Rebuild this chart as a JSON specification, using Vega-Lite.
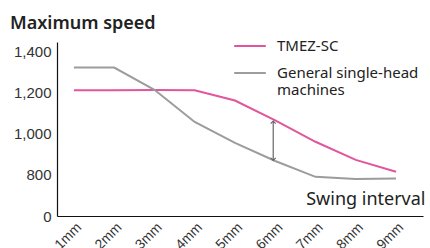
{
  "$schema": "https://vega.github.io/schema/vega-lite/v6.json",
  "width": 366,
  "height": 174,
  "autosize": {"type": "none"},
  "padding": {"left": 57, "top": 42, "right": 7, "bottom": 32},
  "background": "white",
  "config": {
    "font": "Noto Sans",
    "view": {"stroke": null}
  },
  "title": {
    "text": "Maximum speed",
    "anchor": "start",
    "frame": "group",
    "dx": -47,
    "dy": 9,
    "offset": 5,
    "fontSize": 18,
    "fontWeight": 600,
    "color": "#222222",
    "font": "Noto Sans"
  },
  "datasets": {
    "lines": [
      {"mm": 1, "speed": 1210, "series": "TMEZ-SC"},
      {"mm": 2, "speed": 1210, "series": "TMEZ-SC"},
      {"mm": 3, "speed": 1211, "series": "TMEZ-SC"},
      {"mm": 4, "speed": 1210, "series": "TMEZ-SC"},
      {"mm": 5, "speed": 1160, "series": "TMEZ-SC"},
      {"mm": 6, "speed": 1064, "series": "TMEZ-SC"},
      {"mm": 7, "speed": 960, "series": "TMEZ-SC"},
      {"mm": 8, "speed": 872, "series": "TMEZ-SC"},
      {"mm": 9, "speed": 815, "series": "TMEZ-SC"},
      {"mm": 1, "speed": 1320, "series": "General single-head machines"},
      {"mm": 2, "speed": 1320, "series": "General single-head machines"},
      {"mm": 3, "speed": 1212, "series": "General single-head machines"},
      {"mm": 4, "speed": 1056, "series": "General single-head machines"},
      {"mm": 5, "speed": 955, "series": "General single-head machines"},
      {"mm": 6, "speed": 867, "series": "General single-head machines"},
      {"mm": 7, "speed": 790, "series": "General single-head machines"},
      {"mm": 8, "speed": 780, "series": "General single-head machines"},
      {"mm": 9, "speed": 782, "series": "General single-head machines"}
    ],
    "arrow": [
      {"mm": 5.95, "top": 1060, "bottom": 870}
    ]
  },
  "layer": [
    {
      "data": {"name": "lines"},
      "mark": {"type": "line", "strokeWidth": 2},
      "encoding": {
        "x": {
          "field": "mm",
          "type": "quantitative",
          "scale": {"domain": [0.58, 9.67], "nice": false, "zero": false},
          "axis": {
            "values": [1, 2, 3, 4, 5, 6, 7, 8, 9],
            "labelExpr": "datum.value + 'mm'",
            "labelAngle": -45,
            "labelFont": "Liberation Sans",
            "labelFontSize": 14,
            "labelColor": "#333333",
            "labelPadding": 4,
            "ticks": false,
            "grid": false,
            "domainColor": "#111111",
            "domainWidth": 1.2,
            "title": "Swing interval",
            "titleFontSize": 18,
            "titleFontWeight": "normal",
            "titleColor": "#222222",
            "titleAnchor": "end",
            "titleAlign": "right",
            "titleBaseline": "alphabetic",
            "titleX": 368,
            "titleY": -12
          }
        },
        "y": {
          "field": "speed",
          "type": "quantitative",
          "scale": {"domain": [600, 1444], "nice": false, "zero": false},
          "axis": {
            "values": [600, 800, 1000, 1200, 1400],
            "labelExpr": "datum.value == 600 ? '0' : format(datum.value, ',')",
            "labelFont": "Liberation Sans",
            "labelFontSize": 15,
            "labelColor": "#333333",
            "labelPadding": 6,
            "ticks": false,
            "grid": false,
            "domainColor": "#111111",
            "domainWidth": 1.2,
            "title": null
          }
        },
        "color": {
          "field": "series",
          "type": "nominal",
          "scale": {
            "domain": ["TMEZ-SC", "General single-head machines"],
            "range": ["#e2559d", "#9c9c9c"]
          },
          "legend": {
            "orient": "none",
            "legendX": 176,
            "legendY": -13,
            "title": null,
            "symbolType": "stroke",
            "symbolSize": 1000,
            "symbolStrokeWidth": 2,
            "labelFontSize": 15,
            "labelColor": "#222222",
            "labelOffset": 10,
            "rowPadding": 2,
            "padding": 0,
            "labelLimit": 300,
            "labelExpr": "datum.label == 'General single-head machines' ? ['General single-head', 'machines'] : datum.label"
          }
        }
      }
    },
    {
      "data": {"name": "arrow"},
      "mark": {"type": "rule", "color": "#666666", "strokeWidth": 1.2},
      "encoding": {
        "x": {"field": "mm", "type": "quantitative"},
        "y": {"field": "top", "type": "quantitative"},
        "y2": {"field": "bottom"}
      }
    },
    {
      "data": {"name": "arrow"},
      "mark": {"type": "point", "shape": "M-1,1L0,0L1,1", "filled": false, "color": "#666666", "strokeWidth": 1.2, "size": 25, "opacity": 1},
      "encoding": {
        "x": {"field": "mm", "type": "quantitative"},
        "y": {"field": "top", "type": "quantitative"}
      }
    },
    {
      "data": {"name": "arrow"},
      "mark": {"type": "point", "shape": "M-1,-1L0,0L1,-1", "filled": false, "color": "#666666", "strokeWidth": 1.2, "size": 25, "opacity": 1},
      "encoding": {
        "x": {"field": "mm", "type": "quantitative"},
        "y": {"field": "bottom", "type": "quantitative"}
      }
    }
  ]
}
